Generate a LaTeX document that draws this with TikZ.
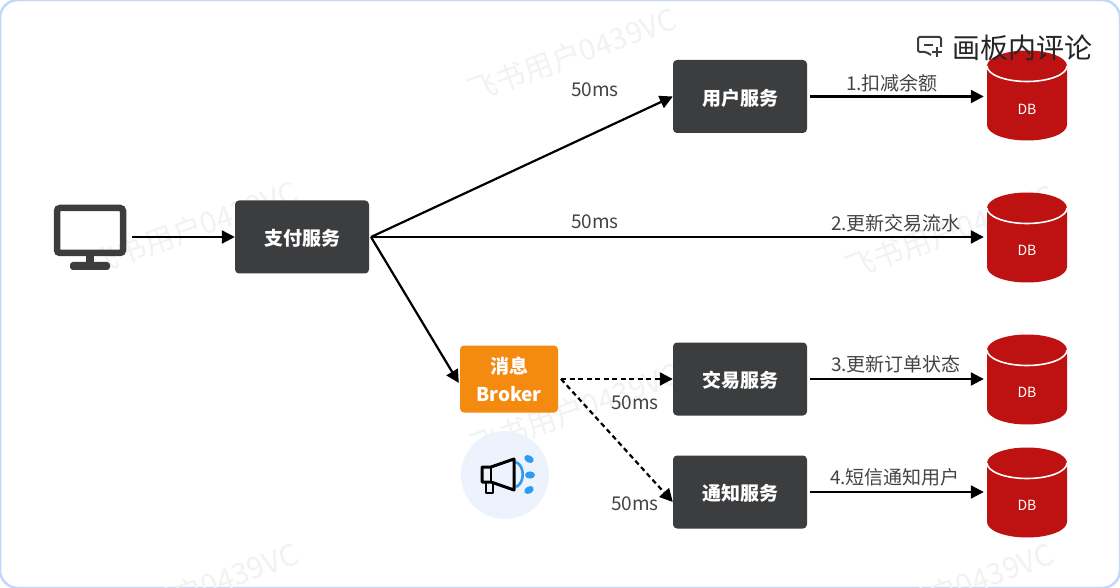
\documentclass[tikz,border=0pt]{standalone}
\usepackage{fontspec}
\setmainfont{Noto Sans CJK SC}
\usetikzlibrary{arrows.meta}
\definecolor{boxdark}{HTML}{3C3D3F}
\definecolor{brokerorange}{HTML}{F58A10}
\definecolor{dbred}{HTML}{BE1212}
\definecolor{framecol}{HTML}{C6D6FB}
\definecolor{txtgray}{HTML}{444444}
\definecolor{wmark}{HTML}{F1F2F3}
\definecolor{pale}{HTML}{EDF3FC}
\definecolor{blueic}{HTML}{2F9BF0}
\tikzset{
  svc/.style={rectangle,rounded corners=4pt,fill=boxdark,text=white,minimum width=134pt,minimum height=73pt,inner sep=0pt},
  svctext/.style={text=white,inner sep=0pt,font=\fontsize{19}{22}\selectfont\bfseries},
  brokerbox/.style={rectangle,rounded corners=4pt,fill=brokerorange,text=white,minimum width=98pt,minimum height=67pt,inner sep=0pt,align=center,font=\fontsize{19}{28}\selectfont\bfseries},
  conn/.style={draw=black,line width=2.2pt,-{Triangle[length=13pt,width=13pt]}},
  dconn/.style={conn,dash pattern=on 5pt off 3.5pt},
  lab/.style={text=txtgray,inner sep=0pt,font=\fontsize{19}{22}\selectfont},
  dblab/.style={text=white,inner sep=0pt,font=\fontsize{14}{16}\selectfont},
  wm/.style={text=wmark,inner sep=0pt,rotate=20,font=\fontsize{29.5}{32}\selectfont},
  dbhit/.style={minimum width=80pt,minimum height=90pt,inner sep=0pt}
}
\newcommand{\dbshape}[1]{%
  \fill[dbred] (987,#1-42) -- (987,#1+17) arc[start angle=180,end angle=0,x radius=40,y radius=15.5] -- (1067,#1-42) arc[start angle=0,end angle=-180,x radius=40,y radius=15.5] -- cycle;
  \draw[white,line width=1.6pt] (987,#1-42) arc[start angle=180,end angle=0,x radius=40,y radius=15.5];
}
\begin{document}
\begin{tikzpicture}[x=1pt,y=-1pt]
\useasboundingbox (0,0) rectangle (1120,588);
\begin{scope}
\clip (0,0) rectangle (1120,588);
\fill[white] (0,0) rectangle (1120,588);
\draw[framecol,line width=2.5pt,rounded corners=18pt] (0,0) rectangle (1120,588);
\node[wm] (w1) at (572,55) {飞书用户0439VC};
\node[wm] (w2) at (193,228) {飞书用户0439VC};
\node[wm] (w3) at (950,232) {飞书用户0439VC};
\node[wm] (w4) at (575,410) {飞书用户0439VC};
\node[wm] (w5) at (194,590) {飞书用户0439VC};
\node[wm] (w6) at (949,590) {飞书用户0439VC};
\end{scope}
% monitor
\draw[boxdark,line width=6.5pt,rounded corners=3pt] (57,208) rectangle (123,253);
\fill[boxdark] (86,255) rectangle (94,265);
\fill[boxdark,rounded corners=3pt] (70,262) rectangle (110,270);
\coordinate (pc) at (132,237);
% services
\node[svc] (pay) at (302,237) {};
\node[svc] (user) at (740,96.5) {};
\node[svc] (trade) at (740,379) {};
\node[svc] (notice) at (740,492) {};
\node[svctext] (paytxt) at (302,238.5) {支付服务};
\node[svctext] (usertxt) at (740,98) {用户服务};
\node[svctext] (tradetxt) at (740,380.5) {交易服务};
\node[svctext] (noticetxt) at (740,493.5) {通知服务};
\node[brokerbox] (broker) at (509,379) {消息\\Broker};
\coordinate (payout) at (371,237);
\coordinate (brout) at (561,379);
% dbs
\dbshape{108}\dbshape{250}\dbshape{392}\dbshape{505}
\node[dbhit] (db1) at (1027,96.5) {};
\node[dbhit] (db2) at (1027,237) {};
\node[dbhit] (db3) at (1027,379) {};
\node[dbhit] (db4) at (1027,492) {};
\node[dblab] (d1) at (1027,109) {DB};
\node[dblab] (d2) at (1027,250) {DB};
\node[dblab] (d3) at (1027,392) {DB};
\node[dblab] (d4) at (1027,505) {DB};
% connectors
\draw[conn] (pc) -- (pay.west);
\draw[conn] (payout) -- (user.west);
\draw[conn,shorten >=3pt] (payout) -- (db2.west);
\draw[conn] (payout) -- ([yshift=-4pt,xshift=-1pt]broker.west);
\draw[conn,shorten >=3pt] (user.east) ++(3,0) -- (db1.west);
\draw[conn,shorten >=3pt] (trade.east) ++(3,0) -- (db3.west);
\draw[conn,shorten >=3pt] (notice.east) ++(3,0) -- (db4.west);
\draw[dconn] (brout) -- (trade.west);
\draw[dconn] (brout) -- ([yshift=-10pt]notice.west);
% labels
\node[lab] (l1) at (595,90) {50ms};
\node[lab] (l2) at (595,222) {50ms};
\node[lab] (l3) at (635,403) {50ms};
\node[lab] (l4) at (635,504) {50ms};
\node[lab] (t1) at (892,83) {1.扣减余额};
\node[lab] (t2) at (896,223.5) {2.更新交易流水};
\node[lab] (t3) at (896,364) {3.更新订单状态};
\node[lab] (t4) at (895,477) {4.短信通知用户};
% megaphone
\node[circle,fill=pale,minimum size=88pt,inner sep=0pt] (horn) at (505,475) {};
\draw[blueic,line width=2.6pt] (516,462) .. controls (525,466) and (525,483) .. (516,487);
\draw[black,line width=3pt,line join=round] (482,467) -- (491,467) -- (514,459) -- (514,490) -- (491,482) -- (482,482) -- cycle;
\draw[black,line width=2.4pt] (491,467) -- (491,482);
\draw[black,line width=2.6pt,line join=round] (486,482) -- (486,493) -- (493,493) -- (493,483);
\fill[blueic,rotate around={-30:(529,459)}] (529,459) ellipse (5 and 3.6);
\fill[blueic] (530,475) ellipse (5 and 3.6);
\fill[blueic,rotate around={30:(529,490)}] (529,490) ellipse (5 and 3.6);
% comment overlay
\draw[boxdark,line width=2pt,line join=round,rounded corners=1.5pt] (941,47) -- (941,37) -- (918,37) -- (918,52) -- (926,52) -- (931,55);
\draw[boxdark,line width=2pt] (924,45) -- (933,45);
\draw[boxdark,line width=2pt] (937,47) -- (937,57) (932,52) -- (942,52);
\node[text=black!85,inner sep=0pt,font=\fontsize{28}{32}\selectfont] (comment) at (1022.5,48) {画板内评论};
\end{tikzpicture}
\end{document}
